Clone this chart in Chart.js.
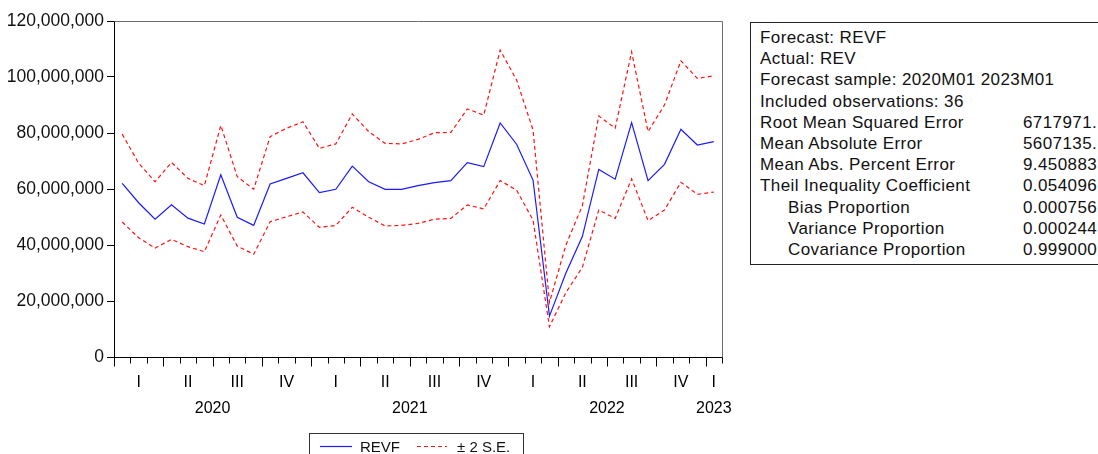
<!DOCTYPE html>
<html>
<head>
<meta charset="utf-8">
<script src="https://cdn.jsdelivr.net/npm/chart.js@4.4.1/dist/chart.umd.min.js"></script>
<style>
  html, body { margin: 0; padding: 0; background: #fff; overflow: hidden; width: 1098px; height: 454px; }
  #chart { position: absolute; left: 0; top: 0; }
  #stats {
    position: absolute; left: 750px; top: 22px; width: 420px; height: 243px;
    border: 1px solid #222; box-sizing: border-box; padding-top: 4px;
    font: 17px "Liberation Sans", Arial, sans-serif; color: #111; background: #fff;
    letter-spacing: 0.4px;
  }
  #stats .row { position: relative; height: 21.2px; line-height: 21.2px; white-space: nowrap; }
  #stats .k { position: absolute; left: 9px; }
  #stats .k.ind { left: 37px; }
  #stats .v { position: absolute; left: 272px; }
</style>
</head>
<body>
<canvas id="chart" width="1098" height="454"></canvas>
<div id="stats"></div>
<script>
// Monthly forecast sample
const months = [
  '2020M01','2020M02','2020M03','2020M04','2020M05','2020M06','2020M07','2020M08','2020M09','2020M10','2020M11','2020M12',
  '2021M01','2021M02','2021M03','2021M04','2021M05','2021M06','2021M07','2021M08','2021M09','2021M10','2021M11','2021M12',
  '2022M01','2022M02','2022M03','2022M04','2022M05','2022M06','2022M07','2022M08','2022M09','2022M10','2022M11','2022M12',
  '2023M01'
];

// Forecast REVF
const revf = [
  62.0e6, 55.1e6, 49.2e6, 54.4e6, 49.6e6, 47.5e6, 65.1e6, 49.9e6, 47.0e6, 61.8e6, 63.8e6, 65.8e6,
  58.7e6, 59.9e6, 68.2e6, 62.6e6, 59.9e6, 59.9e6, 61.2e6, 62.3e6, 63.0e6, 69.4e6, 68.0e6, 83.6e6,
  76.0e6, 63.2e6, 14.6e6, 30.0e6, 43.0e6, 67.0e6, 63.5e6, 83.7e6, 63.0e6, 68.8e6, 81.3e6, 75.7e6,
  76.9e6
];

// Upper band (+2 S.E.)
const upperSE = [
  79.6e6, 69.2e6, 62.6e6, 69.5e6, 63.8e6, 61.2e6, 82.7e6, 64.4e6, 59.9e6, 78.7e6, 81.7e6, 84.0e6,
  74.5e6, 76.1e6, 86.8e6, 80.5e6, 76.3e6, 76.1e6, 77.7e6, 80.1e6, 80.2e6, 88.6e6, 86.4e6, 109.6e6,
  98.9e6, 81.1e6, 19.5e6, 40.0e6, 54.0e6, 86.1e6, 81.7e6, 109.0e6, 80.5e6, 90.0e6, 105.8e6, 99.5e6,
  100.4e6
];

// Lower band (-2 S.E.)
const lowerSE = [
  48.2e6, 42.6e6, 38.9e6, 42.0e6, 39.4e6, 37.6e6, 50.7e6, 39.6e6, 36.7e6, 48.3e6, 50.1e6, 51.8e6,
  46.3e6, 47.0e6, 53.5e6, 49.9e6, 46.8e6, 47.0e6, 47.7e6, 49.2e6, 49.5e6, 54.3e6, 52.9e6, 63.0e6,
  59.6e6, 48.9e6, 10.8e6, 23.0e6, 32.0e6, 52.5e6, 49.5e6, 63.6e6, 48.7e6, 52.5e6, 62.4e6, 58.1e6,
  58.9e6
];

// Axis labels
const quarterLabels = ['I','II','III','IV','I','II','III','IV','I','II','III','IV','I'];
const yearLabels = ['2020','2021','2022','2023'];

// Forecast evaluation table
const statNames = [
  'Forecast: REVF', 'Actual: REV', 'Forecast sample: 2020M01 2023M01', 'Included observations: 36',
  'Root Mean Squared Error', 'Mean Absolute Error', 'Mean Abs. Percent Error', 'Theil Inequality Coefficient',
  'Bias Proportion', 'Variance Proportion', 'Covariance Proportion'
];
const statValues = ['', '', '', '', '6717971.', '5607135.', '9.450883', '0.054096', '0.000756', '0.000244', '0.999000'];
const statIndented = [false, false, false, false, false, false, false, false, true, true, true];

const FONT = '"Liberation Sans", Arial, sans-serif';
const BLUE = '#1a1aff';
const RED = '#ff1414';
const DASH = [4, 3];

const statsBox = document.getElementById('stats');
statNames.forEach((name, i) => {
  const row = document.createElement('div');
  row.className = 'row';
  const k = document.createElement('span');
  k.className = statIndented[i] ? 'k ind' : 'k';
  k.textContent = name;
  row.appendChild(k);
  if (statValues[i]) {
    const v = document.createElement('span');
    v.className = 'v';
    v.textContent = statValues[i];
    row.appendChild(v);
  }
  statsBox.appendChild(row);
});

// Frame, period ticks, period labels and legend
const framePlugin = {
  id: 'frame',
  afterDraw(chart) {
    const { ctx, chartArea: a, scales: { x } } = chart;
    const n = months.length;
    const step = x.getPixelForValue(1) - x.getPixelForValue(0);
    ctx.save();

    // top and right frame
    ctx.strokeStyle = '#6e6e6e';
    ctx.lineWidth = 1;
    ctx.beginPath();
    ctx.moveTo(Math.round(a.left) + 0.5, Math.round(a.top) + 0.5);
    ctx.lineTo(Math.round(a.right) + 0.5, Math.round(a.top) + 0.5);
    ctx.lineTo(Math.round(a.right) + 0.5, Math.round(a.bottom) + 0.5);
    ctx.stroke();

    // bottom axis line
    const yb = Math.round(a.bottom) + 0.5;
    ctx.strokeStyle = '#000';
    ctx.beginPath();
    ctx.moveTo(Math.round(a.left) + 0.5, yb);
    ctx.lineTo(Math.round(a.right) + 0.5, yb);
    ctx.stroke();

    // month boundary ticks, longer at quarter boundaries
    ctx.beginPath();
    for (let i = 0; i <= n; i++) {
      const px = Math.round(x.getPixelForValue(i) - step / 2) + 0.5;
      const len = (i % 3 === 0) ? 9 : 6;
      ctx.moveTo(px, yb);
      ctx.lineTo(px, yb + len);
    }
    ctx.stroke();

    // quarter labels
    ctx.fillStyle = '#000';
    ctx.font = '16px ' + FONT;
    ctx.textAlign = 'center';
    ctx.textBaseline = 'alphabetic';
    quarterLabels.forEach((q, k) => {
      const first = 3 * k, last = Math.min(3 * k + 2, n - 1);
      const cx = (x.getPixelForValue(first) + x.getPixelForValue(last)) / 2;
      ctx.fillText(q, cx, 387);
    });

    // year labels
    yearLabels.forEach((yr, k) => {
      const first = 12 * k, last = Math.min(12 * k + 11, n - 1);
      const cx = (x.getPixelForValue(first) + x.getPixelForValue(last)) / 2;
      ctx.fillText(yr, cx, 413);
    });

    // legend
    const lx = 309.5, ly = 433.5;
    ctx.strokeStyle = '#333';
    ctx.lineWidth = 1;
    ctx.strokeRect(lx, ly, 214, 30);
    const my = 446.5;
    ctx.lineWidth = 1.2;
    ctx.strokeStyle = BLUE;
    ctx.beginPath(); ctx.moveTo(320, my); ctx.lineTo(352, my); ctx.stroke();
    ctx.strokeStyle = RED;
    ctx.setLineDash(DASH);
    ctx.beginPath(); ctx.moveTo(417, my); ctx.lineTo(447, my); ctx.stroke();
    ctx.setLineDash([]);
    ctx.fillStyle = '#111';
    ctx.font = '15px ' + FONT;
    ctx.textAlign = 'left';
    ctx.fillText('REVF', 360, 452);
    ctx.fillText('\u00B1 2 S.E.', 457, 452);

    ctx.restore();
  }
};

new Chart(document.getElementById('chart'), {
  type: 'line',
  data: {
    labels: months,
    datasets: [
      { label: 'REVF', data: revf, borderColor: BLUE, borderWidth: 1.2 },
      { label: '\u00B1 2 S.E.', data: upperSE, borderColor: RED, borderWidth: 1.2, borderDash: DASH },
      { label: '-2 S.E.', data: lowerSE, borderColor: RED, borderWidth: 1.2, borderDash: DASH }
    ]
  },
  options: {
    responsive: false,
    animation: false,
    devicePixelRatio: 1,
    layout: { padding: { left: 0, right: 376, top: 21, bottom: 0 } },
    elements: { point: { radius: 0 }, line: { tension: 0, fill: false } },
    plugins: { legend: { display: false }, tooltip: { enabled: false } },
    scales: {
      x: {
        type: 'category',
        offset: true,
        grid: { display: false },
        border: { display: false },
        ticks: { display: false },
        afterFit(s) { s.height = 97; }
      },
      y: {
        min: 0,
        max: 120e6,
        ticks: { stepSize: 20e6, color: '#111', padding: 3, font: { family: FONT, size: 17.5 } },
        grid: { drawOnChartArea: false, drawTicks: true, tickLength: 7, color: '#000' },
        border: { display: true, color: '#000', width: 1 },
        afterFit(s) { s.width = 114; }
      }
    }
  },
  plugins: [framePlugin]
});
</script>
</body>
</html>
